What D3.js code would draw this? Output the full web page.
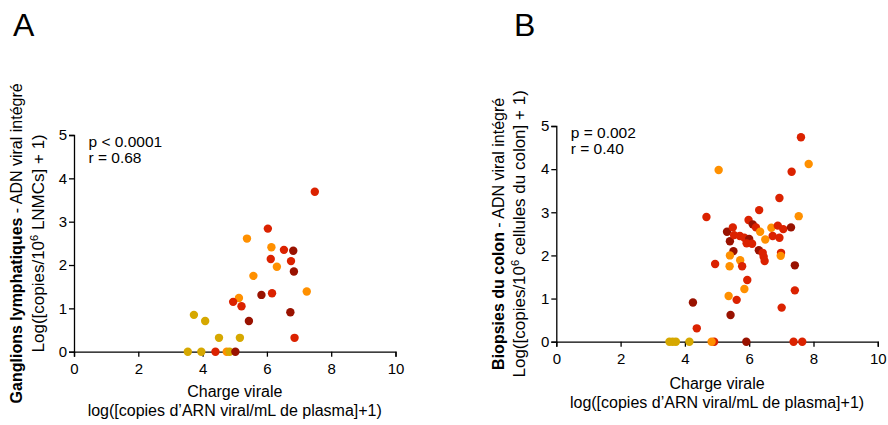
<!DOCTYPE html>
<html>
<head>
<meta charset="utf-8">
<script src="https://cdn.jsdelivr.net/npm/d3@7"></script>
<style>
  html, body { margin: 0; padding: 0; background: #fff; }
  svg { display: block; font-family: "Liberation Sans", Arial, sans-serif; }
</style>
</head>
<body>
<svg id="chart" width="888" height="425"></svg>
<script>
// Group colours (marker fill)
const groupColors = { G: "#D6A800", O: "#FF9000", R: "#DB2200", D: "#991200" };

// Panel A: lymph nodes
const xA = [7.49, 6.03, 5.38, 6.14, 6.53, 6.82, 6.12, 6.75, 6.31, 6.84, 5.58, 7.24, 6.16, 5.83, 5.13,
            4.95, 5.21, 6.73, 3.73, 4.08, 5.44, 4.51, 5.16, 6.86, 3.54, 3.96, 4.40, 4.75, 4.84, 5.02];
const yA = [3.69, 2.84, 2.61, 2.41, 2.35, 2.33, 2.14, 2.09, 1.96, 1.85, 1.75, 1.39, 1.35, 1.31, 1.24,
            1.15, 1.05, 0.91, 0.85, 0.71, 0.71, 0.32, 0.32, 0.32, 0, 0, 0, 0, 0, 0];
const gA  = ["R","R","O","O","R","D","R","R","O","D","O","O","R","D","O",
             "R","R","D","G","G","D","G","G","R","G","G","R","O","G","D"];

// Panel B: colon biopsies
const xB = [5.05, 4.67, 5.31, 5.40, 4.94, 4.25, 4.37, 3.52, 3.62, 3.72, 4.14, 4.91, 4.83,
            7.61, 7.85, 7.32, 6.94, 6.31, 7.54, 5.98, 6.11, 6.21, 5.49, 6.34, 6.69, 6.89, 7.06, 7.30,
            5.53, 5.71, 5.85, 6.00, 5.92, 6.09, 6.50, 6.73, 6.94, 5.51, 6.30, 6.42, 6.45, 6.48,
            5.40, 5.72, 5.78, 5.39, 6.99, 6.98, 7.42, 5.94, 5.85, 7.42, 5.36, 5.61, 7.01, 5.42,
            5.91, 7.38, 7.65];
const yB = [3.98, 2.89, 2.55, 2.33, 1.80, 0.91, 0.31, 0, 0, 0, 0, 0, 0,
            4.74, 4.12, 3.94, 3.33, 3.05, 2.91, 2.82, 2.72, 2.65, 2.65, 2.55, 2.64, 2.69, 2.61, 2.65,
            2.47, 2.45, 2.41, 2.38, 2.28, 2.27, 2.37, 2.45, 2.41, 2.10, 2.12, 2.06, 1.97, 1.87,
            2.00, 1.89, 1.75, 1.75, 2.06, 1.99, 1.77, 1.43, 1.22, 1.19, 1.06, 0.97, 0.79, 0.62,
            0, 0, 0];
const gB  = ["O","R","D","D","R","D","R","G","G","G","G","R","O",
             "R","O","R","R","R","O","R","D","R","R","O","O","R","R","D",
             "R","R","R","D","R","R","O","R","R","D","D","R","R","R",
             "O","O","R","O","R","O","D","R","O","R","O","R","R","D",
             "D","R","R"];

const xTicks = [0, 2, 4, 6, 8, 10];
const yTicks = [0, 1, 2, 3, 4, 5];

const panels = [
  {
    letter: "A", letterX: 13,
    x0: 74, x1: 395.5, yTop: 135, yBottom: 351.7,
    xs: xA, ys: yA, gs: gA,
    stats: ["p < 0.0001", "r = 0.68"],
    yBold: "Ganglions lymphatiques", yRest: " - ADN viral intégré",
    yLine2a: "Log([copies/10", yLine2b: " LNMCs] + 1)",
    yTitleX1: 22, yTitleX2: 44,
    xTitleY: 397
  },
  {
    letter: "B", letterX: 514,
    x0: 556.3, x1: 877.8, yTop: 126, yBottom: 341.7,
    xs: xB, ys: yB, gs: gB,
    stats: ["p = 0.002", "r = 0.40"],
    yBold: "Biopsies du colon", yRest: " - ADN viral intégré",
    yLine2a: "Log([copies/10", yLine2b: " cellules du colon] + 1)",
    yTitleX1: 504, yTitleX2: 525,
    xTitleY: 389
  }
];

const svg = d3.select("#chart");

panels.forEach(p => {
  const g = svg.append("g");
  const x = d3.scaleLinear().domain([0, 10]).range([p.x0, p.x1]);
  const y = d3.scaleLinear().domain([0, 5]).range([p.yBottom, p.yTop]);

  // panel letter
  svg.append("text")
    .attr("x", p.letterX).attr("y", 36)
    .attr("font-size", 32).attr("fill", "#000")
    .text(p.letter);

  // axes
  const xAxis = d3.axisBottom(x).tickValues(xTicks).tickSize(5).tickPadding(7).tickFormat(d3.format("d"));
  const yAxis = d3.axisLeft(y).tickValues(yTicks).tickSize(5).tickPadding(2).tickFormat(d3.format("d"));

  const gx = g.append("g").attr("transform", `translate(0,${p.yBottom})`).call(xAxis);
  const gy = g.append("g").attr("transform", `translate(${p.x0},0)`).call(yAxis);
  [gx, gy].forEach(a => {
    a.select(".domain").attr("stroke", "#000").attr("stroke-width", 1.3);
    a.selectAll(".tick line").attr("stroke", "#000").attr("stroke-width", 1.3);
    a.selectAll(".tick text").attr("font-size", 15).attr("fill", "#000")
      .attr("font-family", "'Liberation Sans', Arial, sans-serif");
  });

  // statistics
  p.stats.forEach((s, i) => {
    g.append("text")
      .attr("x", x(0.45)).attr("y", p.yTop + 11.7 + i * 16.5)
      .attr("font-size", 15.5).attr("fill", "#000")
      .text(s);
  });

  // y-axis title
  const cy = (p.yTop + p.yBottom) / 2;
  const t1 = g.append("text")
    .attr("transform", `translate(${p.yTitleX1},${cy}) rotate(-90)`)
    .attr("text-anchor", "middle").attr("font-size", 16).attr("fill", "#000");
  t1.append("tspan").attr("font-weight", "bold").text(p.yBold);
  t1.append("tspan").text(p.yRest);

  const t2 = g.append("text")
    .attr("transform", `translate(${p.yTitleX2},${cy}) rotate(-90)`)
    .attr("text-anchor", "middle").attr("font-size", 17).attr("fill", "#000");
  t2.append("tspan").text(p.yLine2a);
  t2.append("tspan").attr("font-size", 11).attr("dy", -6).text("6");
  t2.append("tspan").attr("dy", 6).text(p.yLine2b);

  // x-axis title
  const cx = (p.x0 + p.x1) / 2;
  g.append("text").attr("x", cx).attr("y", p.xTitleY)
    .attr("text-anchor", "middle").attr("font-size", 16).attr("fill", "#000")
    .text("Charge virale");
  g.append("text").attr("x", cx).attr("y", p.xTitleY + 19)
    .attr("text-anchor", "middle").attr("font-size", 16).attr("fill", "#000")
    .text("log([copies d’ARN viral/mL de plasma]+1)");

  // points
  g.append("g").selectAll("circle")
    .data(p.xs.map((v, i) => ({ x: v, y: p.ys[i], g: p.gs[i] })))
    .join("circle")
    .attr("cx", d => x(d.x))
    .attr("cy", d => y(d.y))
    .attr("r", 4.2)
    .attr("fill", d => groupColors[d.g]);
});
</script>
</body>
</html>
